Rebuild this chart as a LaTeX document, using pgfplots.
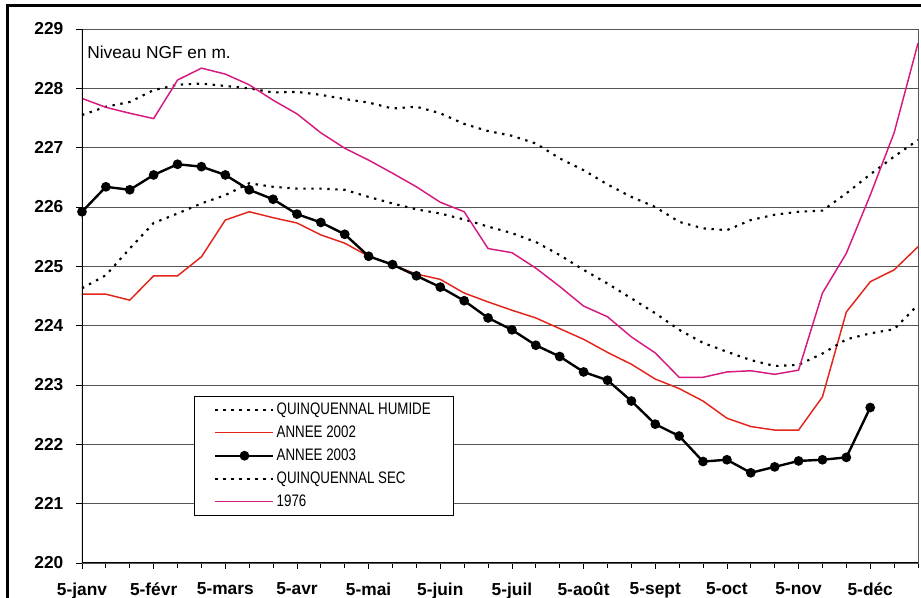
\documentclass[border=0pt]{standalone}
\usepackage{fontspec}
\setmainfont{Liberation Sans}
\newfontfamily\narrowfont[FakeStretch=0.8]{Liberation Sans}
\usepackage{pgfplots}
\usepackage{pgfplotstable}
\pgfplotsset{compat=1.18}

\definecolor{rouge}{HTML}{E3241B}
\definecolor{magenta76}{HTML}{D6197F}
\definecolor{grille}{HTML}{555555}

% niveaux NGF (m), un point tous les 10 jours (5, 15, 25 de chaque mois)
\pgfplotstableread{
x  qh      a2002   a2003   qs      y1976
0  227.55  224.53  225.92  224.63  227.83
1  227.69  224.53  226.34  224.85  227.68
2  227.77  224.43  226.29  225.30  227.58
3  227.97  224.84  226.54  225.73  227.49
4  228.06  224.84  226.72  225.89  228.14
5  228.08  225.16  226.68  226.06  228.34
6  228.04  225.78  226.54  226.20  228.24
7  228.00  225.92  226.29  226.40  228.06
8  227.93  225.82  226.13  226.34  227.80
9  227.94  225.73  225.88  226.31  227.57
10 227.89  225.53  225.74  226.31  227.25
11 227.82  225.39  225.54  226.29  226.99
12 227.76  225.17  225.17  226.17  226.79
13 227.66  225.02  225.03  226.06  226.57
14 227.69  224.87  224.84  225.96  226.34
15 227.58  224.78  224.65  225.89  226.08
16 227.40  224.55  224.42  225.79  225.92
17 227.28  224.40  224.13  225.67  225.30
18 227.20  224.26  223.93  225.56  225.23
19 227.07  224.13  223.67  225.41  224.97
20 226.82  223.95  223.48  225.19  224.66
21 226.62  223.77  223.22  224.94  224.33
22 226.38  223.55  223.08  224.71  224.15
23 226.17  223.35  222.73  224.46  223.81
24 226.00  223.10  222.34  224.21  223.54
25 225.75  222.94  222.14  223.93  223.13
26 225.64  222.73  221.71  223.71  223.13
27 225.61  222.44  221.74  223.56  223.22
28 225.78  222.30  221.52  223.42  223.24
29 225.87  222.24  221.62  223.32  223.18
30 225.92  222.24  221.72  223.34  223.25
31 225.94  222.80  221.74  223.53  224.55
32 226.23  224.23  221.78  223.77  225.22
33 226.55  224.74  222.62  223.87  226.20
34 226.85  224.94  nan     223.94  227.25
35 227.13  225.33  nan     224.35  228.76
}\niveaux

\begin{document}
\begin{tikzpicture}
\useasboundingbox (-61.5pt,-26.25pt) rectangle (629.25pt,422.25pt);
\draw[line width=1.6pt] (-55.9pt,-30pt) -- (-55.9pt,418.1pt) -- (640pt,418.1pt);
\begin{axis}[
    scale only axis,
    width=627pt, height=400.5pt,
    xmin=0, xmax=35,
    ymin=220, ymax=229,
    xtick={0,3,...,33},
    xticklabels={5-janv,5-févr,5-mars,5-avr,5-mai,5-juin,5-juil,5-août,5-sept,5-oct,5-nov,5-déc},
    minor xtick={0,...,35},
    ytick={220,...,229},
    tick align=outside,
    major tick length=4.5pt,
    minor tick length=4pt,
    tick style={black, line width=0.6pt},
    xtick pos=bottom, ytick pos=left,
    ymajorgrids,
    grid style={grille, line width=0.7pt},
    axis line style={grille, line width=0.7pt},
    /pgf/number format/assume math mode=true,
    /pgf/number format/1000 sep={},
    tick label style={font=\bfseries\fontsize{13}{15}\selectfont},
    yticklabel style={xshift=-6pt},
    xticklabel style={yshift=-7pt},
    legend style={at={(rel axis cs:0.134,0.3127)}, anchor=north west,
        draw=black, fill=white,
        font=\narrowfont\fontsize{12.5}{14}\selectfont,
        inner xsep=15pt, inner ysep=3.5pt, row sep=4pt,
        nodes={inner sep=1.5pt, anchor=west}},
    legend cell align=left,
    legend image code/.code={
        \draw[mark repeat=2, mark phase=2, #1]
            plot coordinates {(0pt,0pt) (21.75pt,0pt) (43.5pt,0pt)};},
]
\addplot[black, line width=1.6pt, dash pattern=on 1.8pt off 4.2pt] table[x=x, y=qh] {\niveaux};
\addlegendentry{QUINQUENNAL HUMIDE}
\addplot[rouge, line width=1.1pt] table[x=x, y=a2002] {\niveaux};
\addlegendentry{ANNEE 2002}
\addplot[black, line width=1.8pt, mark=*, mark size=2.7pt] table[x=x, y=a2003] {\niveaux};
\addlegendentry{ANNEE 2003}
\addplot[black, line width=1.6pt, dash pattern=on 1.8pt off 4.2pt] table[x=x, y=qs] {\niveaux};
\addlegendentry{QUINQUENNAL SEC}
\addplot[magenta76, line width=1.1pt] table[x=x, y=y1976] {\niveaux};
\addlegendentry{1976}
\draw[black, line width=0.8pt] (rel axis cs:0,1) -- (rel axis cs:0,0) -- (rel axis cs:1,0);
\node[anchor=west, font=\fontsize{13}{15}\selectfont, inner sep=0pt] at (rel axis cs:0.006,0.957) {Niveau NGF en m.};
\end{axis}
\end{tikzpicture}
\end{document}
